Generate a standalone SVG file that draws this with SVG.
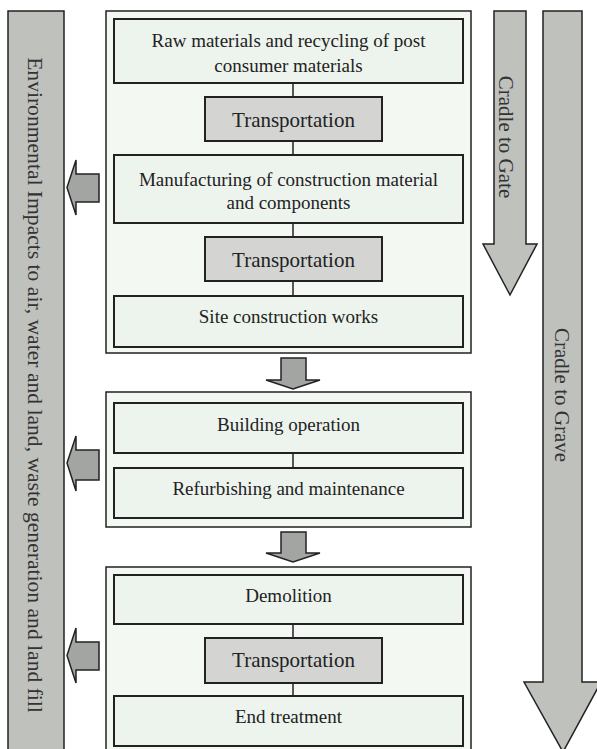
<svg xmlns="http://www.w3.org/2000/svg" width="597" height="749" viewBox="0 0 597 749">
<style>
.outer{fill:#f3f8f3;stroke:#222;stroke-width:1.5}
.box{fill:#edf4ee;stroke:#222;stroke-width:2}
.tr{fill:#d4d5d2;stroke:#222;stroke-width:2}
.bar{fill:#bfc1bd;stroke:#222;stroke-width:1.5}
.arr{fill:#a3a5a2;stroke:#222;stroke-width:1.5;stroke-linejoin:miter}
.t{font-family:"Liberation Serif","Times New Roman",serif;font-size:19px;fill:#222;text-anchor:middle}
.tt{font-family:"Liberation Serif","Times New Roman",serif;font-size:21px;fill:#222;text-anchor:middle}
.v{font-family:"Liberation Serif","Times New Roman",serif;font-size:21px;fill:#333;text-anchor:middle}
.c{stroke:#222;stroke-width:1.5;fill:none}
</style>
<rect width="597" height="749" fill="#ffffff"/>
<g id="impacts-bar">
<rect class="bar" x="8" y="11" width="56" height="745"/>
<text class="v" style="font-size:21.6px" transform="translate(28,385) rotate(90)">Environmental Impacts to air, water and land, waste generation and land fill</text>
</g>
<g id="cradle-to-gate">
<path class="bar" d="M494,11 H526 V244 H537 L510,295 L483,244 H494 Z"/>
<text class="v" transform="translate(499,137) rotate(90)">Cradle to Gate</text>
</g>
<g id="cradle-to-grave">
<path class="bar" d="M543,11 H582 V682 H601 L563,752 L524,682 H543 Z"/>
<text class="v" transform="translate(555,395) rotate(90)">Cradle to Grave</text>
</g>
<g id="stage-production">
<rect class="outer" x="106" y="11" width="365" height="342"/>
</g>
<g id="stage-use">
<rect class="outer" x="106" y="392" width="365" height="135"/>
</g>
<g id="stage-end">
<rect class="outer" x="106" y="567" width="365" height="190"/>
</g>
<g id="connectors">
<line class="c" x1="293" y1="83" x2="293" y2="97"/>
<line class="c" x1="293" y1="141" x2="293" y2="155"/>
<line class="c" x1="293" y1="223" x2="293" y2="237"/>
<line class="c" x1="293" y1="281" x2="293" y2="296"/>
<line class="c" x1="293" y1="453" x2="293" y2="468"/>
<line class="c" x1="293" y1="624" x2="293" y2="638"/>
<line class="c" x1="293" y1="683" x2="293" y2="696"/>
<path class="arr" d="M281,358 H306 V380 H320 L293,389 L266,380 H281 Z"/>
<path class="arr" d="M281,532 H306 V553 H320 L293,562 L266,553 H281 Z"/>
<path class="arr" d="M99,174 H76 V160 L67,187.5 L76,215 V202 H99 Z"/>
<path class="arr" d="M99,450 H76 V436 L67,463 L76,491 V480 H99 Z"/>
<path class="arr" d="M99,642 H76 V628 L67,655.5 L76,683 V670 H99 Z"/>
</g>
<g id="raw-materials">
<rect class="box" x="114" y="19" width="349" height="64"/>
<text class="t" x="288.5" y="47">Raw materials and recycling of post</text>
<text class="t" x="288.5" y="72">consumer materials</text>
</g>
<g id="transport-1">
<rect class="tr" x="205" y="97" width="177" height="44"/>
<text class="tt" x="293.5" y="127">Transportation</text>
</g>
<g id="manufacturing">
<rect class="box" x="114" y="155" width="349" height="68"/>
<text class="t" x="288.5" y="186">Manufacturing of construction material</text>
<text class="t" x="288.5" y="209">and components</text>
</g>
<g id="transport-2">
<rect class="tr" x="205" y="237" width="177" height="44"/>
<text class="tt" x="293.5" y="267">Transportation</text>
</g>
<g id="site-construction">
<rect class="box" x="114" y="296" width="349" height="51"/>
<text class="t" x="288.5" y="323">Site construction works</text>
</g>
<g id="building-operation">
<rect class="box" x="114" y="403" width="349" height="50"/>
<text class="t" x="288.5" y="431">Building operation</text>
</g>
<g id="refurbishing">
<rect class="box" x="114" y="468" width="349" height="50"/>
<text class="t" x="288.5" y="495">Refurbishing and maintenance</text>
</g>
<g id="demolition">
<rect class="box" x="114" y="575" width="349" height="49"/>
<text class="t" x="288.5" y="602">Demolition</text>
</g>
<g id="transport-3">
<rect class="tr" x="205" y="638" width="177" height="45"/>
<text class="tt" x="293.5" y="667">Transportation</text>
</g>
<g id="end-treatment">
<rect class="box" x="114" y="696" width="349" height="50"/>
<text class="t" x="288.5" y="723">End treatment</text>
</g>
</svg>
